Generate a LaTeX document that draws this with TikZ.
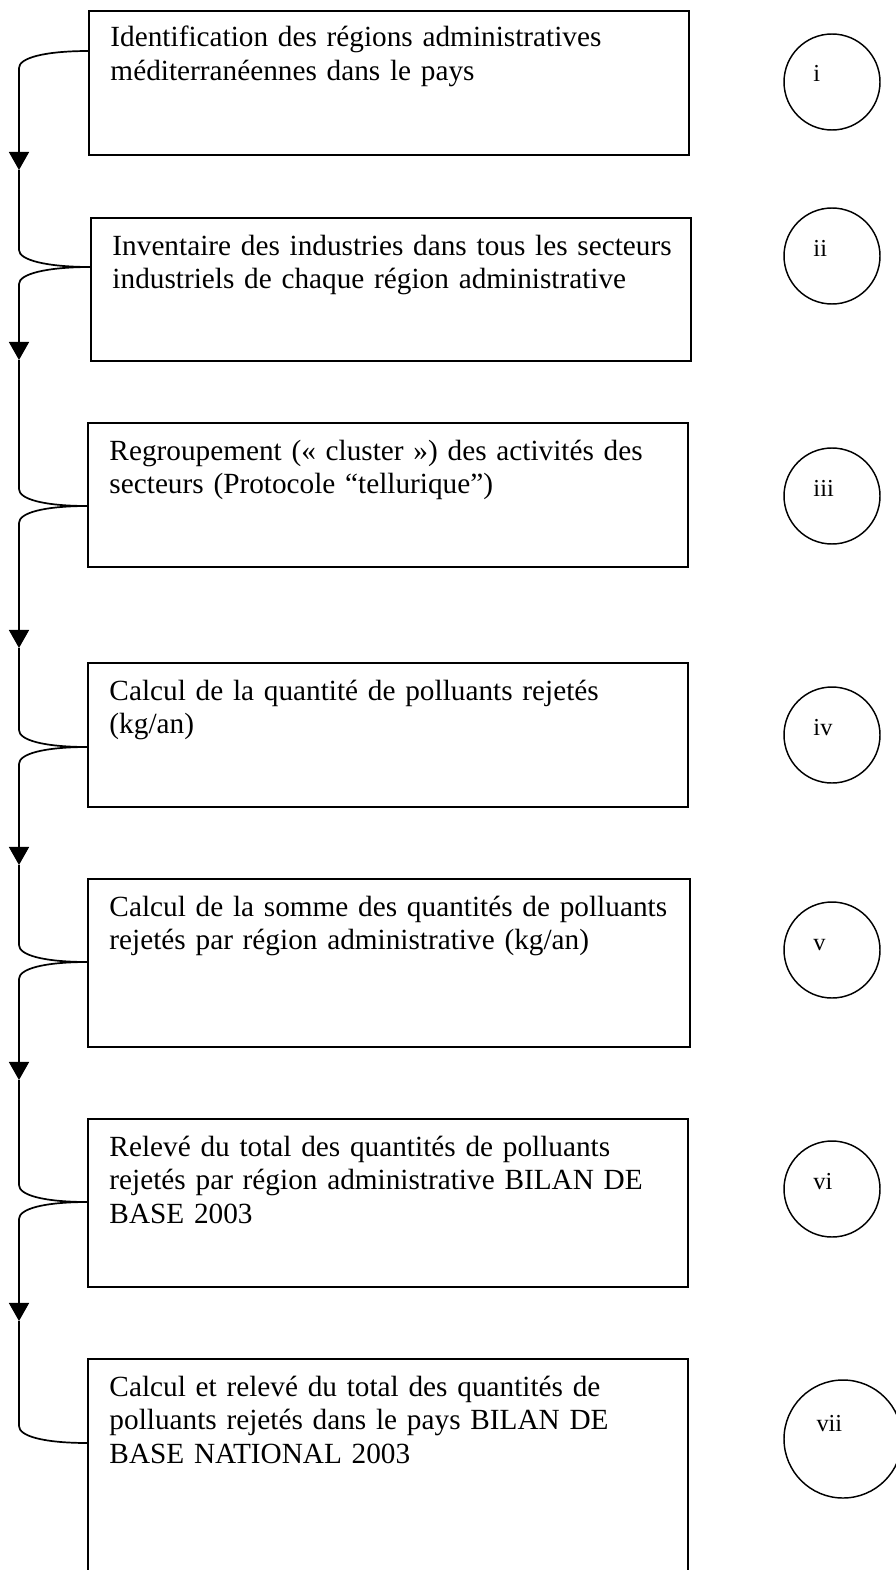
\documentclass[tikz,border=0pt]{standalone}
\usepackage{fontspec}
\setmainfont{Liberation Serif}
\usetikzlibrary{arrows.meta}

\tikzset{
  stagebox/.style={draw, line width=0.7pt, rectangle, anchor=north west,
    inner sep=0pt, outer sep=0pt, minimum width=600*0.41pt},
  stagetext/.style={anchor=base west, inner sep=0pt, text width=240pt,
    align=left, font=\fontsize{12}{13.8}\selectfont},
  roundel/.style={draw, line width=0.6pt, circle, inner sep=0pt,
    outer sep=0pt, minimum size=96*0.41pt},
  numlabel/.style={anchor=base west, inner sep=0pt,
    font=\fontsize{10}{12}\selectfont},
  link/.style={line width=0.7pt},
  linkarrow/.style={line width=0.7pt, -{Triangle[width=8.2pt,length=7.4pt]}}
}

\begin{document}
\begin{tikzpicture}[x=0.41pt,y=-0.41pt]
  \useasboundingbox (0,0) rectangle (896,1570);

  % the seven steps
  \node[stagebox, minimum height=144*0.41pt] (s1) at (89,11) {};
  \node[stagebox, minimum height=143*0.41pt] (s2) at (91,218) {};
  \node[stagebox, minimum height=144*0.41pt] (s3) at (88,423) {};
  \node[stagebox, minimum height=144*0.41pt] (s4) at (88,663) {};
  \node[stagebox, minimum height=168*0.41pt, minimum width=602*0.41pt] (s5) at (88,879) {};
  \node[stagebox, minimum height=168*0.41pt] (s6) at (88,1119) {};
  \node[stagebox, minimum height=240*0.41pt] (s7) at (88,1359) {};

  \node[stagetext] (t1) at ([shift={(21,36)}]s1.north west)
    {Identification des régions administratives\\ méditerranéennes dans le pays};
  \node[stagetext] (t2) at ([shift={(21,37)}]s2.north west)
    {Inventaire des industries dans tous les secteurs\\ industriels de chaque région administrative};
  \node[stagetext] (t3) at ([shift={(21,37)}]s3.north west)
    {Regroupement (« cluster ») des activités des\\ secteurs (Protocole “tellurique”)};
  \node[stagetext] (t4) at ([shift={(21,37)}]s4.north west)
    {Calcul de la quantité de polluants rejetés\\ (kg/an)};
  \node[stagetext] (t5) at ([shift={(21,37)}]s5.north west)
    {Calcul de la somme des quantités de polluants\\ rejetés par région administrative (kg/an)};
  \node[stagetext] (t6) at ([shift={(21,37)}]s6.north west)
    {Relevé du total des quantités de polluants\\ rejetés par région administrative BILAN DE\\ BASE 2003};
  \node[stagetext] (t7) at ([shift={(21,37)}]s7.north west)
    {Calcul et relevé du total des quantités de\\ polluants rejetés dans le pays BILAN DE\\ BASE NATIONAL 2003};

  % numbered circles
  \node[roundel] (c1) at (832,82) {};
  \node[roundel] (c2) at (832,256) {};
  \node[roundel] (c3) at (832,496) {};
  \node[roundel] (c4) at (832,735) {};
  \node[roundel] (c5) at (832,950) {};
  \node[roundel] (c6) at (832,1189) {};
  \node[roundel, minimum size=118*0.41pt] (c7) at (843,1439) {};

  \node[numlabel] (n1) at (813,82) {i};
  \node[numlabel] (n2) at (813,256) {ii};
  \node[numlabel] (n3) at (813,496) {iii};
  \node[numlabel] (n4) at (813,735) {iv};
  \node[numlabel] (n5) at (813,950) {v};
  \node[numlabel] (n6) at (813,1189) {vi};
  \node[numlabel] (n7) at (816,1431) {vii};

  % junctions on the left edges of the boxes
  \coordinate (j1) at (s1.west |- 0,51);
  \coordinate (j2) at (s2.west |- 0,267);
  \coordinate (j3) at (s3.west |- 0,506);
  \coordinate (j4) at (s4.west |- 0,747);
  \coordinate (j5) at (s5.west |- 0,962);
  \coordinate (j6) at (s6.west |- 0,1202);
  \coordinate (j7) at (s7.west |- 0,1443);

  % bends and arrow tips on the left line
  \coordinate (d1) at (19,68);   \coordinate (a1) at (19,170);  \coordinate (u2) at (19,250);
  \coordinate (d2) at (19,284);  \coordinate (a2) at (19,360);  \coordinate (u3) at (19,489);
  \coordinate (d3) at (19,523);  \coordinate (a3) at (19,648);  \coordinate (u4) at (19,730);
  \coordinate (d4) at (19,764);  \coordinate (a4) at (19,865);  \coordinate (u5) at (19,945);
  \coordinate (d5) at (19,979);  \coordinate (a5) at (19,1080); \coordinate (u6) at (19,1185);
  \coordinate (d6) at (19,1219); \coordinate (a6) at (19,1321); \coordinate (u7) at (19,1426);

  \draw[linkarrow] (j1) .. controls +(-45,0) and +(0,-10) .. (d1) -- (a1);
  \draw[link] (a1) -- (u2) .. controls +(0,10) and +(-45,0) .. (j2);
  \draw[linkarrow] (j2) .. controls +(-45,0) and +(0,-10) .. (d2) -- (a2);
  \draw[link] (a2) -- (u3) .. controls +(0,10) and +(-45,0) .. (j3);
  \draw[linkarrow] (j3) .. controls +(-45,0) and +(0,-10) .. (d3) -- (a3);
  \draw[link] (a3) -- (u4) .. controls +(0,10) and +(-45,0) .. (j4);
  \draw[linkarrow] (j4) .. controls +(-45,0) and +(0,-10) .. (d4) -- (a4);
  \draw[link] (a4) -- (u5) .. controls +(0,10) and +(-45,0) .. (j5);
  \draw[linkarrow] (j5) .. controls +(-45,0) and +(0,-10) .. (d5) -- (a5);
  \draw[link] (a5) -- (u6) .. controls +(0,10) and +(-45,0) .. (j6);
  \draw[linkarrow] (j6) .. controls +(-45,0) and +(0,-10) .. (d6) -- (a6);
  \draw[link] (a6) -- (u7) .. controls +(0,10) and +(-45,0) .. (j7);
\end{tikzpicture}
\end{document}
